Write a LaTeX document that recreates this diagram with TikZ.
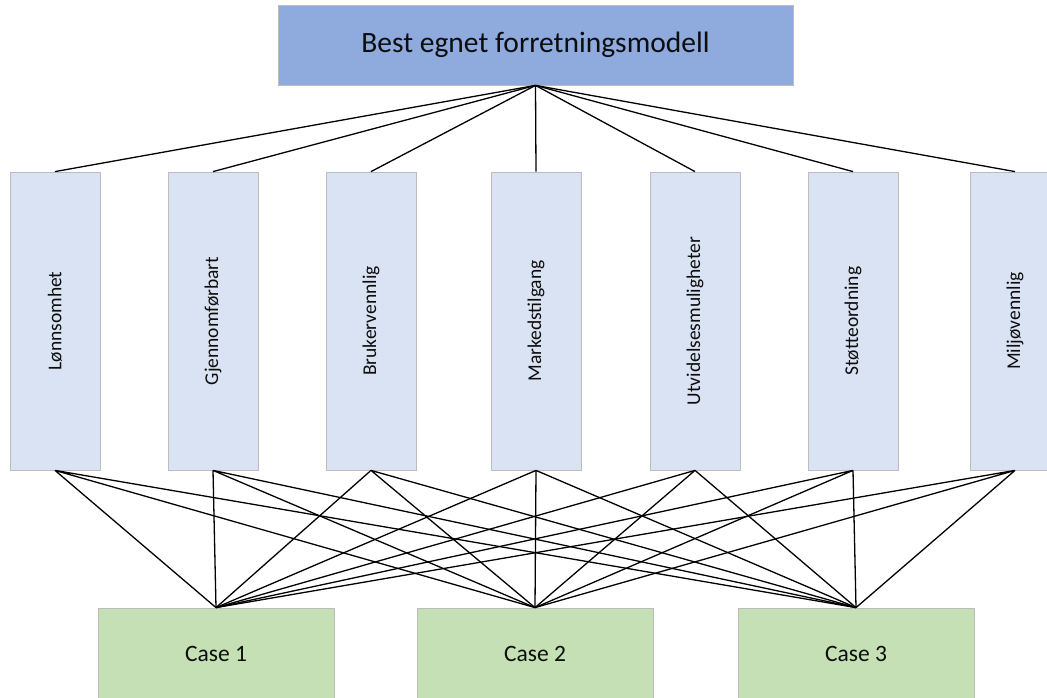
\documentclass[tikz,border=0pt]{standalone}
\usepackage{fontspec}
\setmainfont{Carlito}
\usetikzlibrary{positioning}
\definecolor{goalblue}{HTML}{8FAADC}
\definecolor{critblue}{HTML}{DAE3F3}
\definecolor{casegreen}{HTML}{C5E0B4}
\definecolor{boxedge}{HTML}{BCBCBC}
\definecolor{labeltext}{HTML}{0D0D0D}

\begin{document}
\begin{tikzpicture}[x=1pt, y=-1pt,
    goal/.style={draw=boxedge, line width=0.8pt, fill=goalblue, minimum width=515pt, minimum height=80pt, text=labeltext, font=\fontsize{29.5}{34}\selectfont},
    crit/.style={draw=boxedge, line width=0.8pt, fill=critblue, minimum width=90pt, minimum height=298pt, inner sep=0pt, text=labeltext, font=\fontsize{19.5}{23}\selectfont},
    alt/.style={draw=boxedge, line width=0.8pt, fill=casegreen, minimum width=236pt, minimum height=92pt, text=labeltext, font=\fontsize{23.5}{27}\selectfont},
    link/.style={black, line width=1.3pt}]
    \clip (0,0) rectangle (1047,698);

    % Goal
    \node[goal] (goal) at (535.5,45) {Best egnet forretningsmodell};

    % Criteria
    \node[crit] (c1) at (55,321) {\rotatebox{90}{Lønnsomhet}};
    \node[crit] (c2) at (213,321) {\rotatebox{90}{Gjennomførbart}};
    \node[crit] (c3) at (371,321) {\rotatebox{90}{Brukervennlig}};
    \node[crit] (c4) at (536,321) {\rotatebox{90}{Markedstilgang}};
    \node[crit] (c5) at (695,321) {\rotatebox{90}{Utvidelsesmuligheter}};
    \node[crit] (c6) at (853,321) {\rotatebox{90}{Støtteordning}};
    \node[crit] (c7) at (1015,321) {\rotatebox{90}{Miljøvennlig}};

    % Alternatives
    \node[alt] (case1) at (216,654) {Case 1};
    \node[alt] (case2) at (535,654) {Case 2};
    \node[alt] (case3) at (856,654) {Case 3};

    % Goal to criteria
    \draw[link] (goal.south) -- (c1.north);
    \draw[link] (goal.south) -- (c2.north);
    \draw[link] (goal.south) -- (c3.north);
    \draw[link] (goal.south) -- (c4.north);
    \draw[link] (goal.south) -- (c5.north);
    \draw[link] (goal.south) -- (c6.north);
    \draw[link] (goal.south) -- (c7.north);

    % Criteria to cases
    \draw[link] (c1.south) -- (case1.north) (c1.south) -- (case2.north) (c1.south) -- (case3.north);
    \draw[link] (c2.south) -- (case1.north) (c2.south) -- (case2.north) (c2.south) -- (case3.north);
    \draw[link] (c3.south) -- (case1.north) (c3.south) -- (case2.north) (c3.south) -- (case3.north);
    \draw[link] (c4.south) -- (case1.north) (c4.south) -- (case2.north) (c4.south) -- (case3.north);
    \draw[link] (c5.south) -- (case1.north) (c5.south) -- (case2.north) (c5.south) -- (case3.north);
    \draw[link] (c6.south) -- (case1.north) (c6.south) -- (case2.north) (c6.south) -- (case3.north);
    \draw[link] (c7.south) -- (case1.north) (c7.south) -- (case2.north) (c7.south) -- (case3.north);
\end{tikzpicture}
\end{document}
